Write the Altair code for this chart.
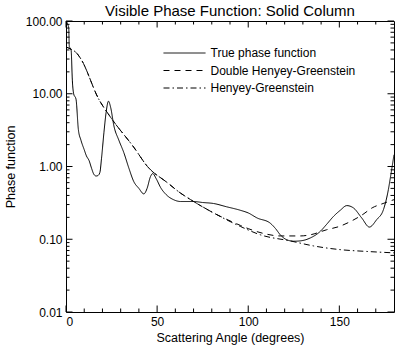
import altair as alt
import pandas as pd

# ---------------- data ----------------
true_angle = [0, 1.5, 1.8, 2.8, 3.5, 4.2, 5.5, 6.8, 8.2, 10, 11.2, 12.7, 14, 15.3, 16.5, 17.5,
              18.6, 19.5, 20.8, 22, 23.3, 24.5, 26.3, 29, 31.7, 34.5, 37.2, 40, 42.7, 44.5,
              46.3, 47.6, 49.5, 52, 55, 59, 63, 70, 75, 81, 88, 95.7, 100, 104.9, 112, 115,
              117.6, 121.3, 125, 128.6, 134, 139.5, 143, 146.8, 150.5, 154.1, 157.7, 162.3,
              166.5, 170.5, 174.2, 176.9, 178, 180]
true_value = [100, 80, 45, 40, 15, 10, 8.4, 3.2, 2.3, 1.7, 1.4, 1.2, 0.95, 0.78, 0.74, 0.75,
              0.83, 1.3, 2.9, 5.5, 7.9, 6.5, 3.6, 2.3, 1.56, 0.95, 0.62, 0.5, 0.42, 0.5,
              0.72, 0.80, 0.68, 0.51, 0.41, 0.35, 0.33, 0.33, 0.32, 0.31, 0.28, 0.25, 0.23,
              0.196, 0.167, 0.14, 0.115, 0.098, 0.094, 0.095, 0.104, 0.128, 0.16, 0.206,
              0.25, 0.29, 0.27, 0.196, 0.147, 0.186, 0.255, 0.48, 0.7, 1.45]

dhg_angle = [0, 2.7, 5.5, 8.2, 18, 24.6, 37.4, 44.7, 55.6, 62.9, 68.4, 81, 95.7, 100, 108.5,
             117.6, 128.6, 134, 143, 150, 157, 163, 168, 174, 180]
dhg_value = [44, 41, 37, 30, 8.4, 4.7, 1.81, 1.0, 0.6, 0.43, 0.35, 0.23, 0.155, 0.14, 0.12,
             0.111, 0.111, 0.115, 0.135, 0.15, 0.18, 0.22, 0.27, 0.31, 0.35]

hg_angle = [0, 2.7, 5.5, 8.2, 18, 24.6, 37.4, 44.7, 55.6, 62.9, 68.4, 81, 95.7, 106.7, 123,
            135.8, 150.4, 165, 180]
hg_value = [44, 41, 37, 30, 8.4, 4.7, 1.81, 1.0, 0.6, 0.43, 0.35, 0.23, 0.15, 0.115, 0.095,
            0.081, 0.072, 0.068, 0.065]

series_names = ["True phase function", "Double Henyey-Greenstein", "Henyey-Greenstein"]
dash_styles = [[1, 0], [6, 5], [6, 3, 1.5, 3]]

x_major = [0, 50, 100, 150]
x_minor = [10, 20, 30, 40, 60, 70, 80, 90, 110, 120, 130, 140, 160, 170]
y_major = [0.01, 0.1, 1, 10, 100]
y_minor = [m * d for d in [0.01, 0.1, 1, 10] for m in range(2, 10)]

# ---------------- build tables ----------------
rows = []
for name, ang, val in [(series_names[0], true_angle, true_value),
                       (series_names[1], dhg_angle, dhg_value),
                       (series_names[2], hg_angle, hg_value)]:
    for i, (a, v) in enumerate(zip(ang, val)):
        rows.append({"angle": a, "value": v, "series": name, "order": i})
df = pd.DataFrame(rows)

W, H = 328, 291
FONT = "Liberation Sans"

xscale = alt.Scale(domain=[0, 180], nice=False, zero=False)
yscale = alt.Scale(type="log", domain=[0.01, 100], nice=False)

lines = alt.Chart(df).mark_line(color="black", strokeWidth=1, clip=True,
                                interpolate="monotone").encode(
    x=alt.X("angle:Q", scale=xscale,
            axis=alt.Axis(title="Scattering Angle (degrees)", values=x_major, format="d",
                          ticks=False, domain=False, grid=False, labelPadding=4,
                          titlePadding=4)),
    y=alt.Y("value:Q", scale=yscale,
            axis=alt.Axis(title="Phase function", values=y_major, format=".2f",
                          ticks=False, domain=False, grid=False, labelPadding=4,
                          titlePadding=8)),
    strokeDash=alt.StrokeDash("series:N",
                              scale=alt.Scale(domain=series_names, range=dash_styles),
                              legend=alt.Legend(title=None, orient="none", legendX=97,
                                                legendY=24.5, symbolType="M-1,0H5",
                                                symbolSize=196, symbolStrokeWidth=1,
                                                symbolStrokeColor="black",
                                                symbolFillColor="transparent",
                                                labelOffset=32.5,
                                                rowPadding=3.5, padding=0,
                                                labelFontSize=12, labelFont=FONT,
                                                labelColor="black")),
    detail="series:N",
    order="order:Q",
)

xmaj = pd.DataFrame({"t": x_major})
xmin = pd.DataFrame({"t": x_minor})
ymaj = pd.DataFrame({"t": y_major})
ymin = pd.DataFrame({"t": y_minor})


def xticks(data, y0, y1):
    return alt.Chart(data).mark_rule(color="black", strokeWidth=1).encode(
        x=alt.X("t:Q", scale=xscale), y=alt.value(y0), y2=alt.value(y1))


def yticks(data, x0, x1):
    return alt.Chart(data).mark_rule(color="black", strokeWidth=1).encode(
        y=alt.Y("t:Q", scale=yscale), x=alt.value(x0), x2=alt.value(x1))


MJ, MN = 6.5, 3.5
ticks = [
    xticks(xmaj, H, H - MJ), xticks(xmin, H, H - MN),
    xticks(xmaj, 0, MJ), xticks(xmin, 0, MN),
    yticks(ymaj, 0, MJ), yticks(ymin, 0, MN),
    yticks(ymaj, W, W - MJ), yticks(ymin, W, W - MN),
]

chart = alt.layer(lines, *ticks).properties(
    width=W, height=H,
    title=alt.TitleParams("Visible Phase Function: Solid Column", fontSize=15, font=FONT,
                          fontWeight="normal", anchor="middle", offset=-4, color="black"),
    autosize=alt.AutoSizeParams(type="none"),
    padding={"left": 66, "top": 21, "right": 14, "bottom": 39},
    background="white",
).configure_view(stroke="black", strokeWidth=1).configure_axis(
    labelFont=FONT, titleFont=FONT, labelFontSize=12, titleFontSize=12.5,
    titleFontWeight="normal", labelColor="black", titleColor="black",
)

chart.save("out.html", embed_options={"renderer": "svg", "actions": False})
